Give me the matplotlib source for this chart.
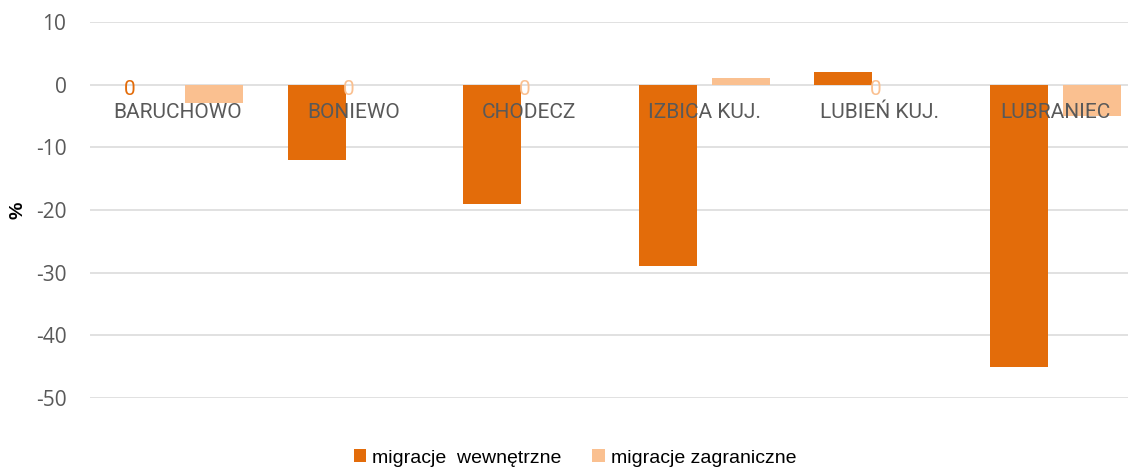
import numpy as np
import matplotlib
matplotlib.use("Agg")
import matplotlib.pyplot as plt

# data
gminy = ['BARUCHOWO', 'BONIEWO', 'CHODECZ', 'IZBICA KUJ.', 'LUBIEŃ KUJ.', 'LUBRANIEC']
wewnetrzne = [0, -12, -19, -29, 2, -45]
zagraniczne = [-3, 0, 0, 1, 0, -5]
series_names = ['migracje  wewnętrzne', 'migracje zagraniczne']
yticks = [10, 0, -10, -20, -30, -40, -50]

c_wew = '#E36C0A'
c_zag = '#FAC090'
grey = '#595959'

W, H = 1128, 471
fig = plt.figure(figsize=(W / 100, H / 100), dpi=100)
# plot area (pixel based, right side is cut off as in the reference)
ax = fig.add_axes([90 / W, 1 - 398 / H, (1143 - 90) / W, (398 - 22) / H])

x = np.arange(len(gminy))
bw = 0.33
off = 0.2075
b1 = ax.bar(x - off, wewnetrzne, bw, color=c_wew, label=series_names[0], zorder=2)
b2 = ax.bar(x + off, zagraniczne, bw, color=c_zag, label=series_names[1], zorder=2)

ax.set_xlim(-0.5, 5.5)
ax.set_ylim(-50, 10)
ax.set_yticks(yticks)
ax.set_yticklabels([str(v) for v in yticks], fontsize=15, color=grey,
                   family=['Open Sans', 'DejaVu Sans'])
ax.tick_params(axis='y', length=0, pad=17)
ax.set_xticks([])
for s in ax.spines.values():
    s.set_visible(False)
ax.grid(axis='y', color='#D9D9D9', lw=1.1, zorder=0)
ax.set_axisbelow(True)

# category labels sit just below the zero line, over the bars
for i, name in enumerate(gminy):
    ax.text(i, -4.5, name, ha='center', va='center', fontsize=15, color=grey,
            family=['Roboto', 'DejaVu Sans'], zorder=5)

# "0" data labels for zero values
for i, v in enumerate(wewnetrzne):
    if v == 0:
        ax.text(i - off - 0.066, -0.7, '0', ha='center', va='center', fontsize=15,
                color=c_wew, family=['Roboto', 'DejaVu Sans'], zorder=6)
for i, v in enumerate(zagraniczne):
    if v == 0:
        ax.text(i - 0.025, -0.7, '0', ha='center', va='center', fontsize=15,
                color=c_zag, family=['Roboto', 'DejaVu Sans'], zorder=6)

fig.text(18 / W, 1 - 210 / H, '%', rotation=90, ha='center', va='center',
         fontsize=14, fontweight='bold', family=['Liberation Sans', 'DejaVu Sans'])

fig.legend(handles=[b1, b2], loc='center', bbox_to_anchor=(575 / W, 1 - 458 / H),
           ncol=2, frameon=False, handlelength=0.65, handleheight=0.65,
           handletextpad=0.3, columnspacing=1.6,
           prop={'family': ['Liberation Sans', 'DejaVu Sans'], 'size': 14})

fig.savefig('out.png', dpi=100)
